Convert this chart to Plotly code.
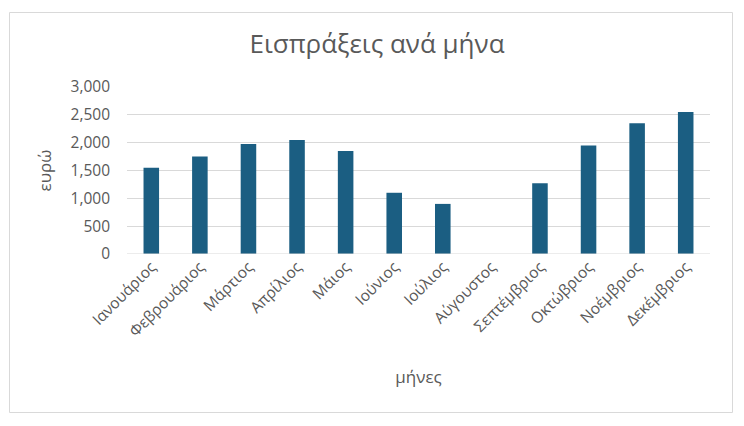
import plotly.graph_objects as go

months = ["Ιανουάριος", "Φεβρουάριος", "Μάρτιος", "Απρίλιος", "Μάιος", "Ιούνιος",
          "Ιούλιος", "Αύγουστος", "Σεπτέμβριος", "Οκτώβριος", "Νοέμβριος", "Δεκέμβριος"]
revenue = [1550, 1750, 1975, 2050, 1850, 1100, 900, 0, 1270, 1950, 2350, 2550]
y_ticks = [0, 500, 1000, 1500, 2000, 2500, 3000]

title_text = "Εισπράξεις ανά μήνα"
x_title = "μήνες"
y_title = "ευρώ"

FONT = "Open Sans"
GRAY = "#595959"

fig = go.Figure(go.Bar(
    x=months, y=revenue,
    marker=dict(color="#1B5E82", line=dict(width=0)),
))

W, H = 744, 426
L, R, T, B = 127, 34, 87, 172
pw, ph = W - L - R, H - T - B

def px_x(v):
    return (v - L) / pw

fig.update_layout(
    width=W, height=H,
    margin=dict(l=L, r=R, t=T, b=B, autoexpand=False),
    paper_bgcolor="white", plot_bgcolor="white",
    bargap=0.68,
    showlegend=False,
    font=dict(family=FONT, color=GRAY, size=15),
    title=dict(text=title_text, x=px_x(377), xanchor="center", xref="paper",
               y=1 - 44 / H, yanchor="middle", yref="container",
               font=dict(size=26, color=GRAY, family=FONT)),
    xaxis=dict(
        type="category", tickangle=-45, showgrid=False, zeroline=False,
        showline=False, ticks="", tickfont=dict(size=15.5, color=GRAY),
        title=dict(text=x_title, font=dict(size=17, color=GRAY), standoff=30),
    ),
    yaxis=dict(
        range=[0, 3000], tickvals=y_ticks, tickformat=",",
        showgrid=True, gridcolor="#D9D9D9", gridwidth=1, zeroline=False,
        showline=False, ticks="", ticklabelstandoff=16,
        tickfont=dict(size=15.5, color=GRAY),
        title=dict(text=y_title, font=dict(size=17, color=GRAY), standoff=14),
    ),
    shapes=[
        dict(type="rect", xref="paper", yref="paper",
             x0=px_x(9.5), x1=px_x(732.5), y0=(H - B - 412.5) / ph, y1=(H - B - 12.5) / ph,
             line=dict(color="#D9D9D9", width=1), fillcolor="rgba(0,0,0,0)", layer="below"),
        dict(type="line", xref="paper", yref="y", x0=0, x1=1, y0=0, y1=0,
             line=dict(color="#D9D9D9", width=1)),
    ],
)

fig.write_html("out.html")
